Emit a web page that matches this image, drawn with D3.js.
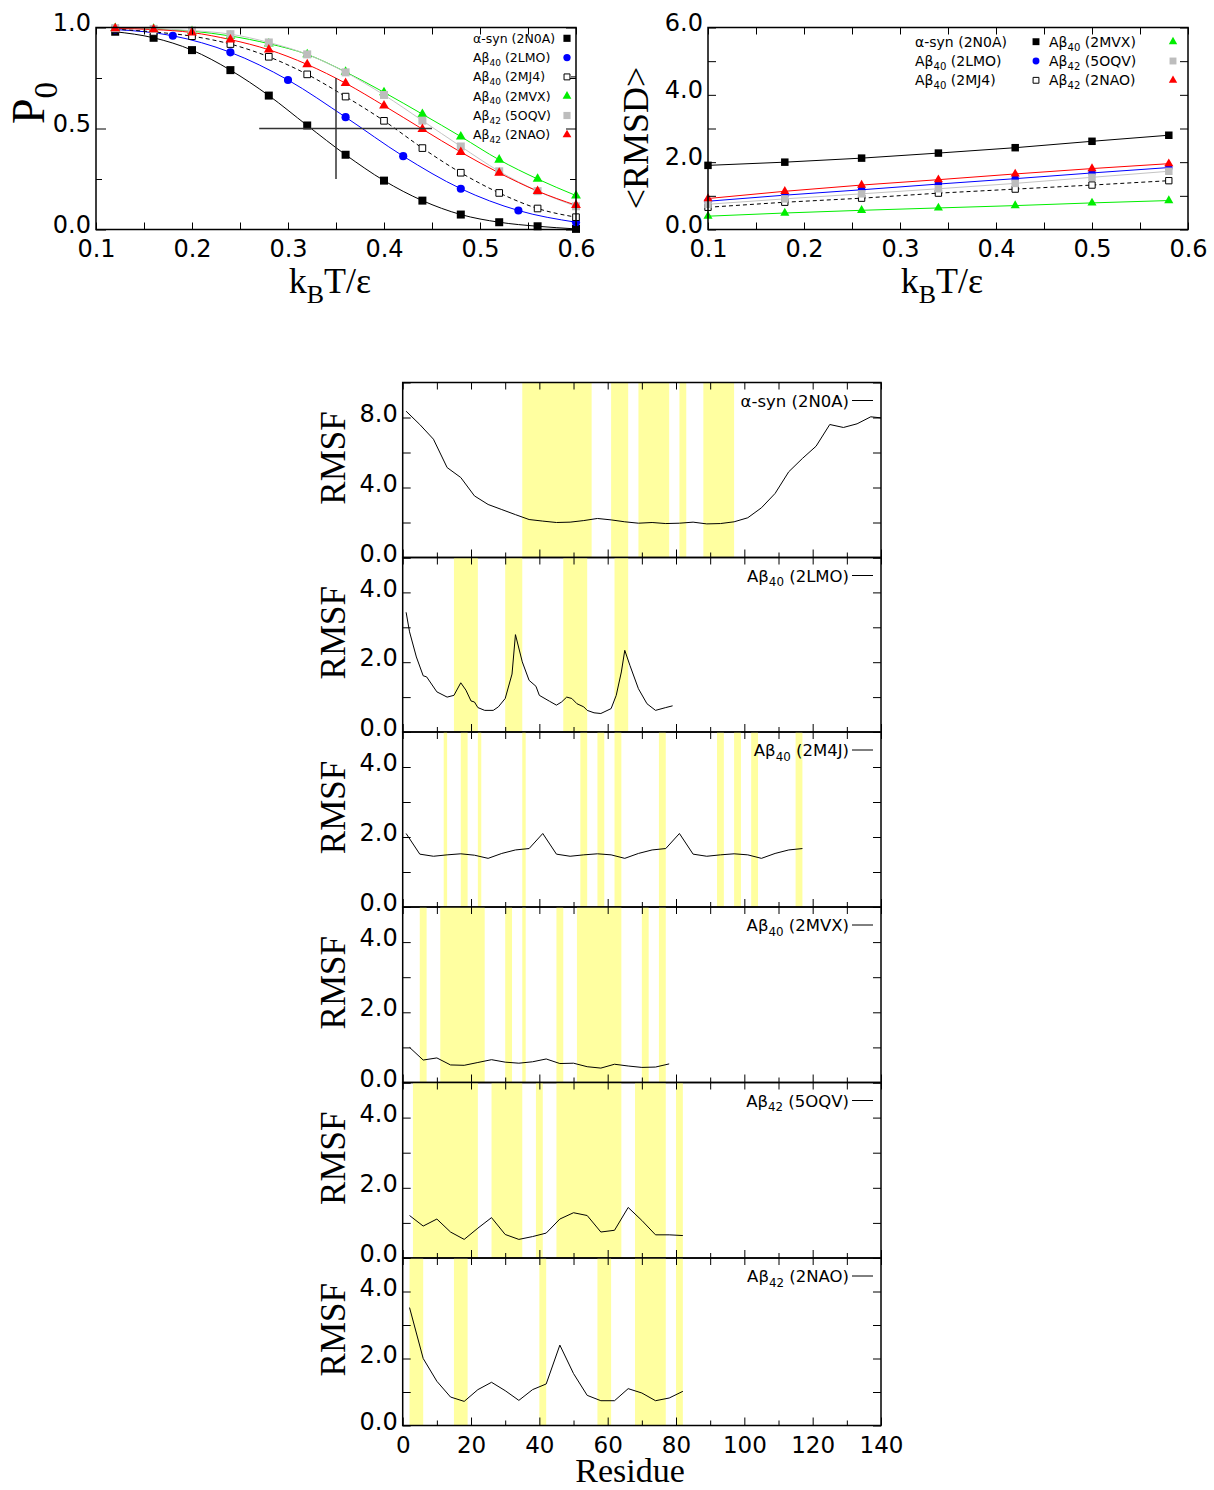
<!DOCTYPE html>
<html>
<head>
<meta charset="utf-8">
<script src="https://cdn.jsdelivr.net/npm/d3@7"></script>
<style>body{margin:0;background:#fff}</style>
</head>
<body>
<svg id="fig" width="1214" height="1490"></svg>
<script>
// ---- P0 vs temperature (top left) ----
const tempA = [0.12, 0.16, 0.20, 0.24, 0.28, 0.32, 0.36, 0.40, 0.44, 0.48, 0.52, 0.56, 0.60];
const tempB = [0.12, 0.18, 0.24, 0.30, 0.36, 0.42, 0.48, 0.54, 0.60];
const p0Syn = [0.979, 0.949, 0.888, 0.789, 0.663, 0.515, 0.370, 0.242, 0.143, 0.074, 0.036, 0.016, 0.003];
const p0Lmo = [0.99, 0.959, 0.877, 0.740, 0.556, 0.363, 0.202, 0.094, 0.036];
const p0Mj4 = [0.992, 0.978, 0.957, 0.918, 0.855, 0.768, 0.658, 0.538, 0.403, 0.281, 0.181, 0.104, 0.061];
const p0Mvx = [0.997, 0.993, 0.982, 0.958, 0.920, 0.867, 0.780, 0.679, 0.571, 0.460, 0.345, 0.250, 0.168];
const p0Oqv = [0.997, 0.993, 0.985, 0.967, 0.926, 0.867, 0.778, 0.666, 0.539, 0.411, 0.288, 0.190, 0.115];
const p0Nao = [0.995, 0.990, 0.975, 0.940, 0.890, 0.817, 0.724, 0.613, 0.497, 0.383, 0.280, 0.190, 0.120];

// ---- <RMSD> vs temperature (top right) ----
const tempR = [0.10, 0.18, 0.26, 0.34, 0.42, 0.50, 0.58];
const rmsdSyn = [1.905, 2.00, 2.12, 2.27, 2.43, 2.62, 2.80];
const rmsdLmo = [0.84, 1.02, 1.18, 1.35, 1.51, 1.68, 1.84];
const rmsdMj4 = [0.66, 0.81, 0.93, 1.08, 1.20, 1.32, 1.45];
const rmsdMvx = [0.395, 0.49, 0.57, 0.64, 0.71, 0.79, 0.86];
const rmsdOqv = [0.75, 0.91, 1.06, 1.21, 1.37, 1.55, 1.73];
const rmsdNao = [0.92, 1.135, 1.32, 1.48, 1.65, 1.81, 1.955];

// ---- RMSF per residue (bottom panels) ----
const synRes = [1,5,9,13,17,21,25,29,33,37,41,45,49,53,57,61,65,69,73,77,81,85,89,93,97,101,105,109,113,117,121,125,129,133,137,140];
const synRmsf = [8.36,7.6,6.76,5.14,4.57,3.52,3.03,2.74,2.45,2.17,2.08,2.0,2.02,2.11,2.23,2.15,2.04,1.96,2.0,1.94,1.96,2.02,1.92,1.94,2.04,2.27,2.84,3.66,4.9,5.66,6.36,7.6,7.43,7.64,8.04,7.98];
const synBands = [[35,55.3],[61,66],[69,78],[81,83],[88,97]];

const lmoRes = [1,2,4,6,7,10,13,15,17,18.5,20,21,22,24,26.5,28,30,32,33,35,37,39,40,43,45,46.5,48,49.5,51,53,54,56,58,61,62.5,64,65,66.5,69,71.5,74,77,79];
const lmoRmsf = [3.43,2.87,2.15,1.61,1.58,1.15,1.0,1.05,1.41,1.2,0.89,0.86,0.70,0.62,0.62,0.72,0.96,1.66,2.79,2.01,1.48,1.31,1.05,0.88,0.77,0.86,1.0,0.96,0.81,0.72,0.62,0.55,0.53,0.67,1.05,1.72,2.34,1.91,1.24,0.81,0.62,0.70,0.75];
const lmoBands = [[15,22],[30,35],[47,54],[62,66]];

const m4jRes = [1,5,9,13,17,21,25,29,33,37,41,45,49,53,57,61,65,69,73,77,81,85,89,93,97,101,105,109,113,117];
const m4jRmsf = [2.1,1.51,1.45,1.49,1.52,1.48,1.39,1.53,1.63,1.67,2.1,1.51,1.45,1.49,1.52,1.49,1.39,1.53,1.63,1.67,2.1,1.51,1.45,1.49,1.52,1.49,1.39,1.53,1.63,1.67];
const m4jBands = [[12,13],[17,19],[22,23],[35,36],[52,54],[57,59],[62,64],[75,77],[92,94],[97,99],[102,104],[115,117]];

const mvxRes = [2,6,10,14,18,22,26,30,34,38,42,46,50,54,58,62,66,70,74,78];
const mvxRmsf = [1.0,0.64,0.70,0.50,0.49,0.57,0.65,0.58,0.55,0.59,0.67,0.54,0.55,0.45,0.41,0.52,0.47,0.43,0.44,0.53];
const mvxBands = [[5,7],[11,24],[30,32],[35,36],[45,47],[51,64],[70,72],[75,77]];

const oqvRes = [2,6,10,14,18,22,26,30,34,38,42,46,50,54,58,62,66,70,74,78,82];
const oqvRmsf = [1.21,0.91,1.11,0.74,0.53,0.85,1.15,0.67,0.53,0.61,0.71,1.11,1.29,1.21,0.74,0.79,1.44,1.07,0.66,0.66,0.64];
const oqvBands = [[3,22],[26,35],[39,41],[45,64],[68,77],[80,82]];

const naoRes = [2,6,10,14,18,22,26,30,34,38,42,46,50,54,58,62,66,70,74,78,82];
const naoRmsf = [3.52,2.0,1.32,0.85,0.72,1.07,1.29,1.04,0.75,1.07,1.24,2.4,1.55,0.9,0.74,0.74,1.1,0.97,0.74,0.82,1.02];
const naoBands = [[2,6],[15,19],[40,42],[57,61],[68,77],[80,82]];

const svg = d3.select("#fig");
const SANS = "DejaVu Sans", SERIF = "Liberation Serif";
const TICK_FS = 24;

// text with _{sub} parts
function rich(t, str, fs) {
  const parts = str.split(/_\{([^}]*)\}/);
  let shifted = 0;
  parts.forEach((p, i) => {
    if (p === "") return;
    const sp = t.append("tspan").text(p);
    if (i % 2 === 1) {
      const d = fs * 0.28;
      sp.attr("font-size", fs * 0.72).attr("dy", d - shifted);
      shifted = d;
    } else if (shifted) {
      sp.attr("dy", -shifted);
      shifted = 0;
    }
  });
  return t;
}

function ticks(g, make, scale, pos, vals, len, fmt, pad, fs) {
  const horiz = make === d3.axisBottom || make === d3.axisTop;
  const a = g.append("g")
    .attr("transform", horiz ? `translate(0,${pos})` : `translate(${pos},0)`)
    .call(make(scale).tickValues(vals).tickSize(-len).tickPadding(pad || 0).tickFormat(fmt || (() => "")));
  a.select(".domain").remove();
  a.selectAll("line").attr("stroke", "#000").attr("stroke-width", 1);
  a.attr("font-family", SANS).attr("font-size", fs || TICK_FS);
  a.selectAll("text").attr("fill", "#000");
  return a;
}

function frame(g, x, y) {
  const [x0, x1] = x.range(), [y0, y1] = y.range();
  g.append("rect").attr("x", x0).attr("y", y1).attr("width", x1 - x0).attr("height", y0 - y1)
    .attr("fill", "none").attr("stroke", "#000").attr("stroke-width", 1.5);
}

const sym = (type, size) => d3.symbol(type, size)();

// ================= top left: P0 =================
{
  const g = svg.append("g");
  const x = d3.scaleLinear([0.1, 0.6], [96, 576]);
  const y = d3.scaleLinear([0, 1], [229.5, 27.5]);
  const series = [
    {name: "α-syn (2N0A)", t: tempA, v: p0Syn, color: "#000", sym: d3.symbolSquare, size: 64, fill: "#000"},
    {name: "Aβ_{40} (2LMO)", t: tempB, v: p0Lmo, color: "#0000ff", sym: d3.symbolCircle, size: 52, fill: "#0000ff"},
    {name: "Aβ_{40} (2MJ4)", t: tempA, v: p0Mj4, color: "#000", sym: d3.symbolSquare, size: 44, fill: "#fff", dash: "4,3"},
    {name: "Aβ_{40} (2MVX)", t: tempA, v: p0Mvx, color: "#00ee00", sym: d3.symbolTriangle, size: 42, fill: "#00ee00"},
    {name: "Aβ_{42} (5OQV)", t: tempA, v: p0Oqv, color: "#c4c4c4", sym: d3.symbolSquare, size: 64, fill: "#bdbdbd"},
    {name: "Aβ_{42} (2NAO)", t: tempA, v: p0Nao, color: "#ff0000", sym: d3.symbolTriangle, size: 42, fill: "#ff0000"}
  ];
  const line = d3.line().x(d => x(d[0])).y(d => y(d[1])).curve(d3.curveMonotoneX);
  series.forEach(s => {
    g.append("path").attr("d", line(d3.zip(s.t, s.v))).attr("fill", "none")
      .attr("stroke", s.color).attr("stroke-width", 1).attr("stroke-dasharray", s.dash || null);
  });
  series.forEach(s => {
    g.selectAll(null).data(d3.zip(s.t, s.v)).join("path")
      .attr("d", sym(s.sym, s.size))
      .attr("transform", d => `translate(${x(d[0])},${y(d[1])})`)
      .attr("fill", s.fill).attr("stroke", s.fill === "#fff" ? "#000" : "none").attr("stroke-width", 1);
  });
  // crosshair at P0 = 0.5
  g.append("line").attr("x1", x(0.27)).attr("x2", x(0.45)).attr("y1", y(0.5)).attr("y2", y(0.5))
    .attr("stroke", "#333").attr("stroke-width", 1.5);
  g.append("line").attr("x1", x(0.35)).attr("x2", x(0.35)).attr("y1", y(0.25)).attr("y2", y(0.75))
    .attr("stroke", "#333").attr("stroke-width", 1.5);

  const xt = d3.range(0.1, 0.6001, 0.05);
  ticks(g, d3.axisBottom, x, 229.5, xt.filter((d, i) => i % 2), 7);
  ticks(g, d3.axisBottom, x, 229.5, xt.filter((d, i) => !(i % 2)), 7, d3.format(".1f"), 10);
  ticks(g, d3.axisTop, x, 27.5, xt, 7);
  ticks(g, d3.axisLeft, y, 96, [0.25, 0.75], 6);
  ticks(g, d3.axisLeft, y, 96, [0, 0.5, 1], 10, d3.format(".1f"), 5).selectAll("text").attr("y", -5);
  ticks(g, d3.axisRight, y, 576, [0.25, 0.75], 6);
  ticks(g, d3.axisRight, y, 576, [0, 0.5, 1], 10);
  frame(g, x, y);

  // legend
  series.forEach((s, i) => {
    const cy = 38.3 + i * 19.3;
    rich(g.append("text").attr("x", 473).attr("y", cy + 4.5).attr("font-family", SANS).attr("font-size", 12.5), s.name, 12.5);
    g.append("path").attr("d", sym(s.sym, s.size * 0.8)).attr("transform", `translate(567,${cy})`)
      .attr("fill", s.fill).attr("stroke", s.fill === "#fff" ? "#000" : "none");
    if (s.dash) g.append("line").attr("x1", 571).attr("x2", 576).attr("y1", cy).attr("y2", cy).attr("stroke", "#000");
  });

  rich(g.append("text").attr("x", 330).attr("y", 293).attr("text-anchor", "middle")
    .attr("font-family", SERIF).attr("font-size", 36), "k_{B}T/ε", 36);
  rich(g.append("text").attr("transform", "translate(44,103) rotate(-90)").attr("text-anchor", "middle")
    .attr("font-family", SERIF).attr("font-size", 46), "P_{0}", 46);
}

// ================= top right: <RMSD> =================
{
  const g = svg.append("g");
  const x = d3.scaleLinear([0.1, 0.6], [708, 1188]);
  const y = d3.scaleLinear([0, 6], [229.5, 27.5]);
  const series = [
    {name: "α-syn (2N0A)", v: rmsdSyn, color: "#000", sym: d3.symbolSquare, size: 56, fill: "#000"},
    {name: "Aβ_{40} (2LMO)", v: rmsdLmo, color: "#0000ff", sym: d3.symbolCircle, size: 44, fill: "#0000ff"},
    {name: "Aβ_{40} (2MJ4)", v: rmsdMj4, color: "#000", sym: d3.symbolSquare, size: 40, fill: "#fff", dash: "4,3"},
    {name: "Aβ_{40} (2MVX)", v: rmsdMvx, color: "#00ee00", sym: d3.symbolTriangle, size: 36, fill: "#00ee00"},
    {name: "Aβ_{42} (5OQV)", v: rmsdOqv, color: "#c4c4c4", sym: d3.symbolSquare, size: 56, fill: "#bdbdbd"},
    {name: "Aβ_{42} (2NAO)", v: rmsdNao, color: "#ff0000", sym: d3.symbolTriangle, size: 36, fill: "#ff0000"}
  ];
  const line = d3.line().x(d => x(d[0])).y(d => y(d[1]));
  series.forEach(s => {
    g.append("path").attr("d", line(d3.zip(tempR, s.v))).attr("fill", "none")
      .attr("stroke", s.color).attr("stroke-width", 1).attr("stroke-dasharray", s.dash || null);
  });
  series.forEach(s => {
    g.selectAll(null).data(d3.zip(tempR, s.v)).join("path")
      .attr("d", sym(s.sym, s.size))
      .attr("transform", d => `translate(${x(d[0])},${y(d[1])})`)
      .attr("fill", s.fill).attr("stroke", s.fill === "#fff" ? "#000" : "none").attr("stroke-width", 1);
  });
  const xt = d3.range(0.1, 0.6001, 0.05);
  ticks(g, d3.axisBottom, x, 229.5, xt.filter((d, i) => i % 2), 7);
  ticks(g, d3.axisBottom, x, 229.5, xt.filter((d, i) => !(i % 2)), 7, d3.format(".1f"), 10);
  ticks(g, d3.axisTop, x, 27.5, xt, 7);
  ticks(g, d3.axisLeft, y, 708, [1, 3, 5], 8);
  ticks(g, d3.axisLeft, y, 708, [0, 2, 4, 6], 8, d3.format(".1f"), 5).selectAll("text").attr("y", -5);
  ticks(g, d3.axisRight, y, 1188, [0, 1, 2, 3, 4, 5, 6], 8);
  frame(g, x, y);

  series.forEach((s, i) => {
    const col = Math.floor(i / 3), row = i % 3;
    const cy = 41.7 + row * 19.3;
    const tx = col ? 1049 : 915, mx = col ? 1173 : 1036;
    rich(g.append("text").attr("x", tx).attr("y", cy + 5).attr("font-family", SANS).attr("font-size", 14), s.name, 14);
    g.append("path").attr("d", sym(s.sym, s.size * 0.85)).attr("transform", `translate(${mx},${cy})`)
      .attr("fill", s.fill).attr("stroke", s.fill === "#fff" ? "#000" : "none");
  });

  rich(g.append("text").attr("x", 942).attr("y", 293).attr("text-anchor", "middle")
    .attr("font-family", SERIF).attr("font-size", 36), "k_{B}T/ε", 36);
  g.append("text").attr("transform", "translate(648,138) rotate(-90)").attr("text-anchor", "middle")
    .attr("font-family", SERIF).attr("font-size", 36).text("<RMSD>");
}

// ================= bottom: RMSF panels =================
{
  const panels = [
    {name: "α-syn (2N0A)", res: synRes, val: synRmsf, bands: synBands, yMax: 10, major: [0, 4, 8], minor: [2, 6, 10]},
    {name: "Aβ_{40} (2LMO)", res: lmoRes, val: lmoRmsf, bands: lmoBands, yMax: 5, major: [0, 2, 4], minor: [1, 3, 5]},
    {name: "Aβ_{40} (2M4J)", res: m4jRes, val: m4jRmsf, bands: m4jBands, yMax: 5, major: [0, 2, 4], minor: [1, 3, 5]},
    {name: "Aβ_{40} (2MVX)", res: mvxRes, val: mvxRmsf, bands: mvxBands, yMax: 5, major: [0, 2, 4], minor: [1, 3, 5]},
    {name: "Aβ_{42} (5OQV)", res: oqvRes, val: oqvRmsf, bands: oqvBands, yMax: 5, major: [0, 2, 4], minor: [1, 3, 5]},
    {name: "Aβ_{42} (2NAO)", res: naoRes, val: naoRmsf, bands: naoBands, yMax: 5, major: [0, 2, 4], minor: [1, 3, 5]}
  ];
  const edges = [382.5, 557.5, 732, 907, 1082.5, 1258, 1425.5];
  const x = d3.scaleLinear([0, 140], [402.7, 881]);
  const xt = d3.range(0, 141, 10);

  panels.forEach((p, i) => {
    const g = svg.append("g");
    const top = edges[i], bot = edges[i + 1];
    const y = d3.scaleLinear([0, p.yMax], [bot, top]);
    g.selectAll(null).data(p.bands).join("rect")
      .attr("x", d => x(d[0])).attr("width", d => x(d[1]) - x(d[0]))
      .attr("y", top).attr("height", bot - top).attr("fill", "#ffffa0");
    g.append("path").attr("d", d3.line().x(d => x(d[0])).y(d => y(d[1]))(d3.zip(p.res, p.val)))
      .attr("fill", "none").attr("stroke", "#000").attr("stroke-width", 1);

    const last = i === panels.length - 1;
    ticks(g, d3.axisBottom, x, bot, xt.filter(d => d % 20), 5);
    ticks(g, d3.axisBottom, x, bot, xt.filter(d => !(d % 20)), 8, last ? d3.format("d") : null, 11, 23);
    ticks(g, d3.axisTop, x, top, xt, 7);
    ticks(g, d3.axisLeft, y, 402.7, p.minor, 8);
    ticks(g, d3.axisLeft, y, 402.7, p.major, 8, d3.format(".1f"), 5).selectAll("text").attr("y", -4);
    ticks(g, d3.axisRight, y, 881, p.major.concat(p.minor), 8);
    frame(g, x, y);

    // legend: label + line sample
    rich(g.append("text").attr("x", 849).attr("y", top + 24).attr("text-anchor", "end")
      .attr("font-family", SANS).attr("font-size", 16.5), p.name, 16.5);
    g.append("line").attr("x1", 852).attr("x2", 873).attr("y1", top + 18).attr("y2", top + 18)
      .attr("stroke", "#000").attr("stroke-width", 1);

    g.append("text").attr("transform", `translate(345,${(top + bot) / 2 - 12}) rotate(-90)`)
      .attr("text-anchor", "middle").attr("font-family", SERIF).attr("font-size", 35).text("RMSF");
  });

  svg.append("text").attr("x", 630).attr("y", 1482).attr("text-anchor", "middle")
    .attr("font-family", SERIF).attr("font-size", 34).text("Residue");
}
</script>
</body>
</html>
